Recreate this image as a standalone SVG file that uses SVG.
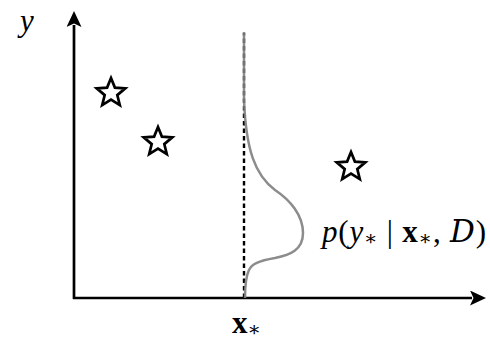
<svg xmlns="http://www.w3.org/2000/svg" width="490" height="340" viewBox="0 0 490 340">
<style>
.axis{stroke:#000;stroke-width:2.7;fill:none}
.star{fill:#fff;stroke:#000;stroke-width:2.7;stroke-linejoin:miter}
.math{font-family:"Liberation Serif","DejaVu Serif",serif;fill:#000}
.it{font-style:italic}
.bf{font-weight:bold}
</style>
<defs>
<marker id="ah" markerUnits="userSpaceOnUse" markerWidth="18" markerHeight="16" refX="2" refY="7.5" orient="auto">
<path d="M0,0 L16,7.5 L0,15 L3.5,7.5 z" fill="#000"/>
</marker>
<polygon id="starshape" points="0,-15 3.9,-5.4 14.3,-4.6 6.3,2.1 8.8,12.1 0,6.7 -8.8,12.1 -6.3,2.1 -14.3,-4.6 -3.9,-5.4"/>
</defs>
<g id="connectors">
<line class="axis" x1="74" y1="299" x2="74" y2="25" marker-end="url(#ah)"/>
<line class="axis" x1="73" y1="298" x2="472" y2="298" marker-end="url(#ah)"/>
<line x1="244" y1="298" x2="244" y2="33" stroke="#000" stroke-width="2.4" stroke-dasharray="4.5,3"/>
</g>
<g id="density">
<path d="M244,32 L244,100 C246,150 255,175 275,190 C290,200 303,215 303,233 C303,250 290,255 275,258 C258,261 252,264 249,270 C246,276 245,285 245,298" fill="none" stroke="#808080" stroke-width="2.5" stroke-opacity="0.9"/>
</g>
<g id="star1"><use href="#starshape" class="star" x="111" y="93"/></g>
<g id="star2"><use href="#starshape" class="star" x="158" y="142"/></g>
<g id="star3"><use href="#starshape" class="star" x="351" y="167"/></g>
<g id="label-y"><text class="math it" x="20" y="31" font-size="31">y</text></g>
<g id="label-x"><text class="math" x="232" y="333" font-size="31"><tspan class="bf">x</tspan><tspan font-size="20" dy="3">∗</tspan></text></g>
<g id="label-p"><text class="math" x="322" y="242" font-size="31" textLength="164" lengthAdjust="spacing"><tspan class="it">p</tspan>(<tspan class="it">y</tspan><tspan font-size="20" dy="3">∗</tspan><tspan dy="-3"> | </tspan><tspan class="bf">x</tspan><tspan font-size="20" dy="3">∗</tspan><tspan dy="-3">, </tspan><tspan font-family="'DejaVu Serif',serif" font-style="italic">D</tspan>)</text></g>
</svg>
